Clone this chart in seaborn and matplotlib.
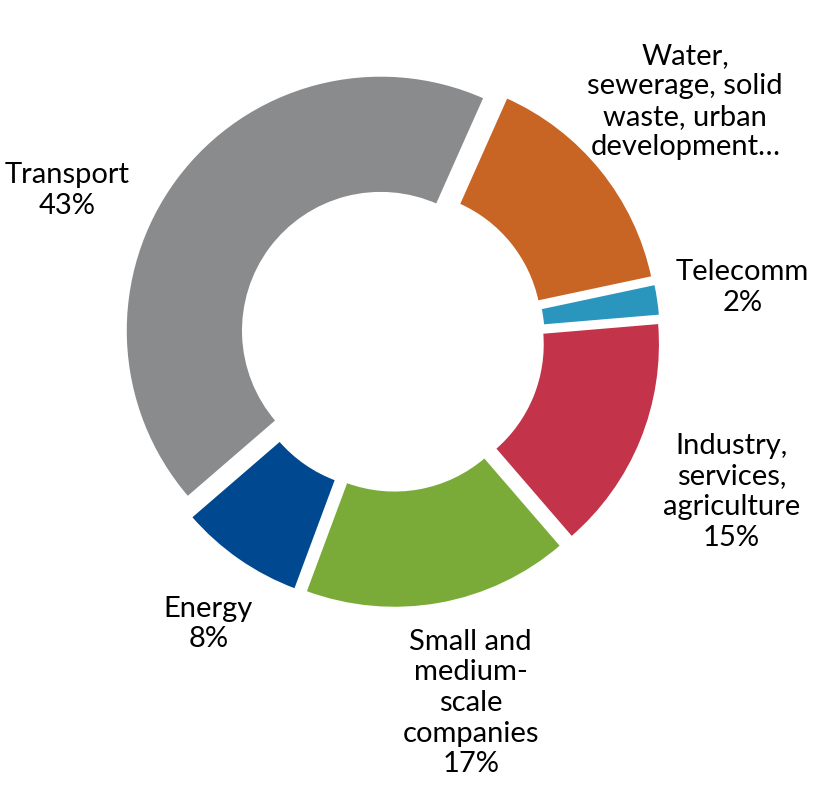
import numpy as np
import seaborn as sns
import matplotlib.pyplot as plt

# data
sectors = ["Water,\nsewerage, solid\nwaste, urban\ndevelopment\u2026", "Telecomm", "Industry,\nservices,\nagriculture",
           "Small and\nmedium-\nscale\ncompanies", "Energy", "Transport"]
shares = [15, 2, 15, 17, 8, 43]
show_pct = [False, True, True, True, True, True]
colors = ["#C86424", "#2A96BE", "#C3344A", "#7AAB38", "#004990", "#8A8B8D"]
label_dist = [1.48, 1.39, 1.46, 1.46, 1.33, 1.40]
label_shift = [0, 0, -2, 2, 2, 12]  # degrees, nudge from wedge middle

sns.set_theme(style="white")
plt.rcParams['font.family'] = ['Lato', 'DejaVu Sans']

fig = plt.figure(figsize=(8.21, 7.99), dpi=100)
ax = fig.add_axes([0, 0, 1, 1])

s = 255.0  # px per data unit
cx, cy = 392, 339
wedges, _ = ax.pie(shares, colors=colors, startangle=66, counterclock=False,
                   explode=[0.055] * len(shares), radius=1.0,
                   wedgeprops=dict(width=0.46, edgecolor="white", linewidth=1.5))

for w, lab, pct, val, d, sh in zip(wedges, sectors, show_pct, shares, label_dist, label_shift):
    ang = np.deg2rad((w.theta1 + w.theta2) / 2 + sh)
    txt = lab + ("\n%d%%" % val if pct else "")
    ax.text(d * np.cos(ang), d * np.sin(ang), txt, ha="center", va="center",
            fontsize=21, color="black", linespacing=1.22)

ax.set_xlim(-cx / s, (821 - cx) / s)
ax.set_ylim(-(799 - cy) / s, cy / s)
ax.set_aspect("equal")
ax.axis("off")

fig.savefig("out.png", dpi=100)
